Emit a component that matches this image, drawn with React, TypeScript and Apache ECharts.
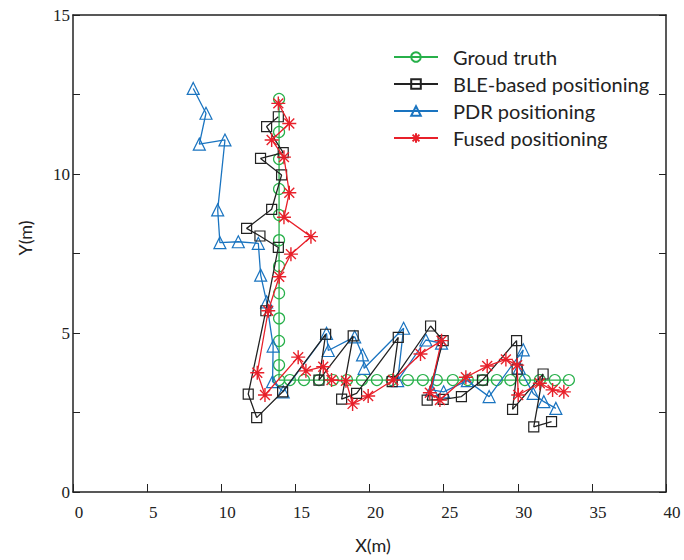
import React, { useEffect, useRef } from "react";
import * as echarts from "echarts";

const groundX = [13.9, 13.9, 13.9, 13.9, 13.9, 13.9, 13.9, 13.9, 13.9, 13.9, 13.9, 13.9, 14.63, 15.58, 16.59, 17.53, 18.48, 19.49, 20.5, 21.5, 22.59, 23.6, 24.54, 25.62, 26.63, 27.65, 28.59, 29.5, 30.48, 31.49, 32.5, 33.45];
const groundY = [12.36, 11.32, 10.47, 9.53, 8.71, 7.92, 7.1, 6.25, 5.46, 4.75, 3.99, 3.52, 3.52, 3.52, 3.52, 3.52, 3.52, 3.52, 3.52, 3.52, 3.52, 3.52, 3.52, 3.52, 3.52, 3.52, 3.52, 3.52, 3.52, 3.52, 3.52, 3.52];

const bleX = [13.85, 13.06, 14.18, 12.65, 14.07, 13.4, 11.71, 12.61, 13.85, 13.01, 11.82, 12.39, 14.14, 17.04, 16.59, 18.9, 18.12, 19.13, 21.94, 21.53, 24.12, 24.97, 23.89, 24.97, 26.2, 27.62, 29.92, 29.96, 29.65, 31.71, 31.08, 32.28];
const bleY = [11.8, 11.49, 10.67, 10.49, 9.97, 8.89, 8.29, 8.05, 7.69, 5.7, 3.08, 2.34, 3.15, 4.96, 3.52, 4.91, 2.92, 3.1, 4.86, 3.47, 5.22, 4.76, 2.89, 2.91, 3.0, 3.52, 4.76, 3.86, 2.6, 3.71, 2.05, 2.21];

const pdrX = [8.11, 8.97, 8.52, 10.25, 9.76, 9.91, 11.15, 12.5, 12.66, 13.06, 13.5, 13.46, 14.18, 17.1, 17.22, 19.0, 19.53, 19.64, 22.3, 21.9, 23.8, 24.86, 24.19, 25.0, 26.6, 28.07, 30.37, 30.1, 31.04, 31.76, 32.57];
const pdrY = [12.69, 11.91, 10.94, 11.07, 8.87, 7.84, 7.87, 7.82, 6.82, 5.98, 4.59, 3.47, 3.15, 4.99, 4.45, 4.88, 4.31, 3.89, 5.15, 3.5, 4.78, 4.68, 3.21, 3.15, 3.5, 3.0, 4.47, 3.9, 3.1, 2.84, 2.63];

const fusedX = [13.85, 14.59, 13.4, 14.23, 14.59, 14.23, 16.05, 14.7, 13.91, 13.17, 12.43, 12.95, 15.19, 15.71, 16.88, 17.44, 18.41, 18.86, 19.91, 21.6, 23.44, 24.86, 24.07, 24.75, 26.5, 27.94, 29.2, 29.96, 30.03, 31.49, 32.35, 33.11];
const fusedY = [12.22, 11.59, 11.07, 10.53, 9.41, 8.64, 8.03, 7.48, 6.77, 5.7, 3.75, 3.05, 4.24, 3.81, 3.94, 3.52, 3.5, 2.77, 3.02, 3.52, 4.34, 4.76, 3.12, 2.89, 3.61, 3.96, 4.17, 3.99, 3.05, 3.42, 3.21, 3.15];

const seriesNames = ["Groud truth", "BLE-based positioning", "PDR positioning", "Fused positioning"];
const xTicks = [0, 5, 10, 15, 20, 25, 30, 35, 40];
const yTicks = [0, 5, 10, 15];
const xTitle = "X(m)";
const yTitle = "Y(m)";

const zip = (xs: number[], ys: number[]) => xs.map((x, i) => [x, ys[i]]);

const GREEN = "#27b04a";
const BLACK = "#222222";
const BLUE = "#1a74c0";
const RED = "#e8202a";
const STAR = "path://M5 0L5 10M0 5L10 5M1.46 1.46L8.54 8.54M8.54 1.46L1.46 8.54";

export default function App() {
  const ref = useRef<HTMLDivElement>(null);
  useEffect(() => {
    if (!ref.current) return;
    const chart = echarts.init(ref.current, undefined, { renderer: "svg" });
    const tickFont = { fontFamily: "Liberation Serif", fontSize: 17, color: "#222" };
    const line = { show: true, onZero: false, lineStyle: { color: "#222", width: 1.5 } };
    const mk = (name: string, data: number[][], color: string, symbol: string, size: number, z: number) => ({
      name,
      type: "line",
      data,
      symbol,
      symbolSize: size,
      z,
      lineStyle: { color, width: 1.3 },
      itemStyle: { color: symbol === STAR ? color : "rgba(0,0,0,0)", borderColor: color, borderWidth: symbol === STAR ? 1.4 : 1.2 },
      emphasis: { disabled: true },
    });
    chart.setOption({
      animation: false,
      backgroundColor: "#fff",
      grid: { left: 73, top: 15, right: 18, bottom: 68 },
      graphic: [
        {
          type: "text",
          x: 373,
          y: 545,
          style: { text: xTitle, font: "18px Lato", fill: "#222", align: "center", verticalAlign: "middle" },
        },
        {
          type: "text",
          x: 25,
          y: 238,
          rotation: Math.PI / 2,
          style: { text: yTitle, font: "18px Lato", fill: "#222", align: "center", verticalAlign: "middle" },
        },
      ],
      legend: {
        orient: "vertical",
        left: 388,
        top: 42,
        itemWidth: 44,
        itemHeight: 12,
        itemGap: 7,
        data: seriesNames,
        textStyle: { fontFamily: "Lato", fontSize: 20, color: "#222", padding: [0, 0, 0, 10] },
      },
      xAxis: [
        {
          type: "value",
          min: 0,
          max: 40,
          interval: 5,
          axisLine: line,
          axisTick: { show: true, inside: true, length: 8, lineStyle: { color: "#222" } },
          axisLabel: { ...tickFont, margin: 12, padding: [0, 0, 0, 12], formatter: (v: number) => (xTicks.includes(v) ? String(v) : "") },
          splitLine: { show: false },
        },
        {
          type: "value",
          position: "top",
          min: 0,
          max: 40,
          interval: 5,
          axisLine: line,
          axisTick: { show: false },
          axisLabel: { show: false },
          splitLine: { show: false },
        },
      ],
      yAxis: [
        {
          type: "value",
          min: 0,
          max: 15,
          interval: 2.5,
          axisLine: line,
          axisTick: { show: true, inside: true, length: 7, lineStyle: { color: "#222" } },
          axisLabel: { ...tickFont, margin: 3, formatter: (v: number) => (yTicks.includes(v) ? String(v) : "") },
          splitLine: { show: false },
        },
        {
          type: "value",
          position: "right",
          min: 0,
          max: 15,
          interval: 2.5,
          axisLine: line,
          axisTick: { show: true, inside: true, length: 7, lineStyle: { color: "#222" } },
          axisLabel: { show: false },
          splitLine: { show: false },
        },
      ],
      series: [
        mk(seriesNames[0], zip(groundX, groundY), GREEN, "circle", 11, 1),
        mk(seriesNames[1], zip(bleX, bleY), BLACK, "rect", 10, 3),
        mk(seriesNames[2], zip(pdrX, pdrY), BLUE, "triangle", 12, 2),
        mk(seriesNames[3], zip(fusedX, fusedY), RED, STAR, 14, 4),
      ],
    });
    return () => chart.dispose();
  }, []);
  return <div ref={ref} style={{ position: "fixed", left: 0, top: 0, width: 684, height: 560 }} />;
}
